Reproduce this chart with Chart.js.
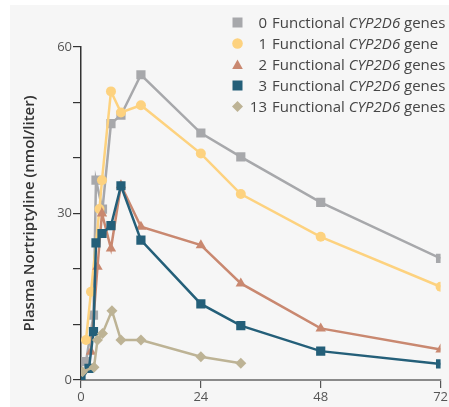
<!DOCTYPE html>
<html>
<head>
<meta charset="utf-8">
<script src="https://cdn.jsdelivr.net/npm/chart.js@4.4.1/dist/chart.umd.min.js"></script>
<style>
  html, body { margin: 0; padding: 0; background: #ffffff; }
  #wrap { position: relative; width: 449px; height: 407px; overflow: hidden; }
  #c { position: absolute; left: 0; top: 0; }
  #legend { position: absolute; left: 230px; top: 12px; font-family: "Open Sans", sans-serif; font-size: 15px; color: #454545; }
  .row { position: relative; height: 21px; line-height: 21px; white-space: nowrap; }
  .row svg { position: absolute; left: 2px; top: 5px; }
  .num { position: absolute; left: 17px; width: 20px; text-align: right; }
  .txt { position: absolute; left: 42px; }
  .txt i { font-style: italic; }
</style>
</head>
<body>
<div id="wrap">
  <canvas id="c" width="449" height="407"></canvas>
  <div id="legend"></div>
</div>
<script>
// ---- data ----
const seriesLabels = ["0", "1", "2", "3", "13"];
const seriesNouns = ["genes", "gene", "genes", "genes", "genes"];

const hours0 = [1, 2.5, 3, 4.3, 6, 8, 12, 24, 32, 48, 72];
const conc0  = [3.3, 11.7, 36, 30.8, 46.2, 47.7, 55, 44.5, 40.2, 32, 21.9];

const hours1 = [1, 2, 3.7, 4.2, 6, 8, 12, 24, 32, 48, 72];
const conc1  = [7.2, 15.9, 30.8, 36, 52, 48.2, 49.5, 40.8, 33.5, 25.8, 16.8];

const hours2 = [2, 3.3, 4.2, 6, 8, 12, 24, 32, 48, 72];
const conc2  = [5.1, 20.4, 30, 23.7, 35.1, 27.6, 24.3, 17.4, 9.3, 5.5];

const hours3 = [0, 1.6, 2.5, 3, 4.2, 6, 8, 12, 24, 32, 48, 72];
const conc3  = [0, 2.1, 8.7, 24.7, 26.4, 27.8, 35, 25.2, 13.7, 9.8, 5.2, 2.9];

const hours13 = [0.3, 2.6, 3.3, 4.3, 6.2, 8, 12, 24, 32];
const conc13  = [1.5, 2.3, 7.2, 8.4, 12.5, 7.2, 7.2, 4.2, 3.0];

const xTicks = [0, 24, 48, 72];
const yTickLabels = [0, 30, 60];

const colors = ["#a7a8ab", "#fdd27f", "#c98870", "#245f79", "#bdb395"];
const pointStyles = ["rect", "circle", "triangle", "rect", "rectRot"];
const pointRadii = [6.5, 5, 6, 6.5, 5.5];

function pts(xs, ys) { return xs.map((x, i) => ({ x: x, y: ys[i] })); }
const allData = [pts(hours0, conc0), pts(hours1, conc1), pts(hours2, conc2), pts(hours3, conc3), pts(hours13, conc13)];

const datasets = allData.map((d, i) => ({
  label: seriesLabels[i] + " Functional CYP2D6 " + seriesNouns[i],
  data: d,
  borderColor: colors[i],
  backgroundColor: colors[i],
  pointBackgroundColor: colors[i],
  pointBorderColor: colors[i],
  pointBorderWidth: 0,
  pointStyle: pointStyles[i],
  pointRadius: pointRadii[i],
  borderWidth: 2.5,
  tension: 0,
  order: 5 - i
}));

const bgPlugin = {
  id: "bg",
  beforeDraw(chart) {
    const ctx = chart.ctx;
    ctx.save();
    ctx.fillStyle = "#ffffff";
    ctx.fillRect(0, 0, chart.width, chart.height);
    ctx.fillStyle = "#f6f6f6";
    ctx.fillRect(10, 5, chart.width - 10, chart.height - 5);
    ctx.restore();
  }
};

new Chart(document.getElementById("c"), {
  type: "line",
  data: { datasets: datasets },
  plugins: [bgPlugin],
  options: {
    responsive: false,
    animation: false,
    layout: { padding: { top: 47, right: 8, left: 0, bottom: 0 } },
    plugins: { legend: { display: false }, tooltip: { enabled: false } },
    scales: {
      x: {
        type: "linear", min: 0, max: 72,
        afterBuildTicks(scale) { scale.ticks = xTicks.map(v => ({ value: v })); },
        afterFit(scale) { scale.height = 27; },
        ticks: { color: "#555", font: { family: "Open Sans", size: 13 }, padding: 1, maxRotation: 0 },
        grid: { drawOnChartArea: false, drawTicks: true, tickLength: 8, color: "#555", lineWidth: 1.2 },
        border: { display: true, color: "#8a8a8a", width: 2 }
      },
      y: {
        type: "linear", min: 0, max: 60,
        ticks: {
          stepSize: 10,
          color: "#555", font: { family: "Open Sans", size: 13 }, padding: 1,
          callback: v => (yTickLabels.includes(v) ? String(v) : "")
        },
        afterFit(scale) { scale.width = 81; },
        grid: { drawOnChartArea: false, drawTicks: true, tickLength: 8, color: "#333", lineWidth: 1.2 },
        border: { display: true, color: "#333", width: 1.5 },
        title: {
          display: true, text: "Plasma Nortriptyline (nmol/liter)",
          color: "#333", font: { family: "Open Sans", size: 15, weight: "600" },
          padding: { top: 21, bottom: 0 }
        }
      }
    }
  }
});

// HTML legend with italic gene name
function markerSvg(i) {
  const c = colors[i];
  let shape = "";
  if (pointStyles[i] === "rect") shape = '<rect x="0.5" y="0.5" width="10" height="10" fill="' + c + '"/>';
  else if (pointStyles[i] === "circle") shape = '<circle cx="5.5" cy="5.5" r="5.3" fill="' + c + '"/>';
  else if (pointStyles[i] === "triangle") shape = '<polygon points="5.5,0.5 10.8,10 0.2,10" fill="' + c + '"/>';
  else shape = '<polygon points="5.5,0 11,5.5 5.5,11 0,5.5" fill="' + c + '"/>';
  return '<svg width="11" height="11" viewBox="0 0 11 11">' + shape + '</svg>';
}
const legend = document.getElementById("legend");
seriesLabels.forEach((lab, i) => {
  const row = document.createElement("div");
  row.className = "row";
  row.innerHTML = markerSvg(i) + '<span class="num">' + lab + '</span><span class="txt">Functional <i>CYP2D6</i> ' + seriesNouns[i] + '</span>';
  legend.appendChild(row);
});
</script>
</body>
</html>
